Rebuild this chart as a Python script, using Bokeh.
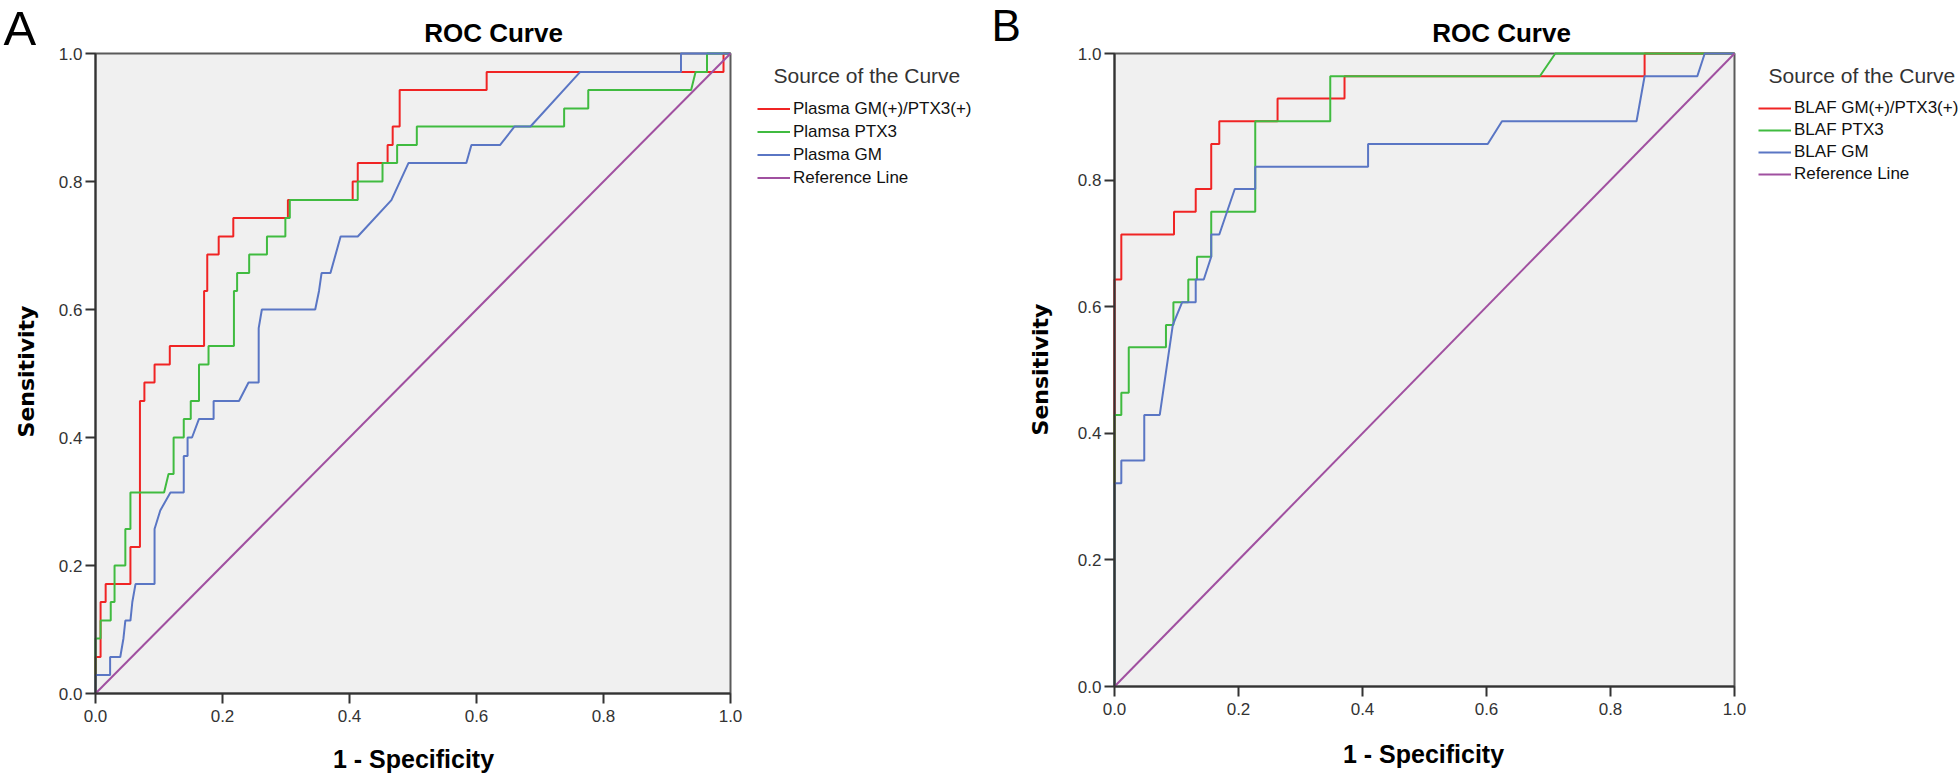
import math
from bokeh.plotting import figure
from bokeh.layouts import row
from bokeh.models import (Range1d, Label, Legend, LegendItem, FixedTicker, PrintfTickFormatter,
                          LinearAxis)
from bokeh.embed import file_html
from bokeh.resources import INLINE

# ---------------- data ----------------
tick_values = [0.0, 0.2, 0.4, 0.6, 0.8, 1.0]

ref_x = [0.0, 1.0]
ref_y = [0.0, 1.0]

# Panel A
a_names = ["Plasma GM(+)/PTX3(+)", "Plamsa PTX3", "Plasma GM", "Reference Line"]
a_red_fpr = [0, 0, 0.008, 0.008, 0.016, 0.016, 0.055, 0.055, 0.070, 0.070, 0.077, 0.077, 0.093, 0.093,
             0.117, 0.117, 0.171, 0.171, 0.176, 0.176, 0.194, 0.194, 0.217, 0.217, 0.303, 0.303,
             0.405, 0.405, 0.413, 0.413, 0.460, 0.460, 0.468, 0.468, 0.479, 0.479, 0.616, 0.616,
             0.989, 0.989, 1.0]
a_red_tpr = [0, 0.057, 0.057, 0.143, 0.143, 0.171, 0.171, 0.229, 0.229, 0.457, 0.457, 0.486, 0.486, 0.514,
             0.514, 0.543, 0.543, 0.629, 0.629, 0.686, 0.686, 0.714, 0.714, 0.743, 0.743, 0.771,
             0.771, 0.800, 0.800, 0.829, 0.829, 0.857, 0.857, 0.886, 0.886, 0.943, 0.943, 0.971,
             0.971, 1.0, 1.0]
a_green_fpr = [0, 0, 0.008, 0.008, 0.024, 0.024, 0.030, 0.030, 0.047, 0.047, 0.055, 0.055, 0.108, 0.115,
               0.123, 0.123, 0.139, 0.139, 0.150, 0.150, 0.163, 0.163, 0.178, 0.178, 0.218, 0.218,
               0.223, 0.223, 0.242, 0.242, 0.270, 0.270, 0.299, 0.299, 0.306, 0.306, 0.413, 0.413,
               0.452, 0.452, 0.475, 0.475, 0.506, 0.506, 0.738, 0.738, 0.776, 0.776, 0.938, 0.945,
               0.963, 0.963, 1.0]
a_green_tpr = [0, 0.086, 0.086, 0.114, 0.114, 0.143, 0.143, 0.200, 0.200, 0.257, 0.257, 0.314, 0.314, 0.343,
               0.343, 0.400, 0.400, 0.429, 0.429, 0.457, 0.457, 0.514, 0.514, 0.543, 0.543, 0.629,
               0.629, 0.657, 0.657, 0.686, 0.686, 0.714, 0.714, 0.743, 0.743, 0.771, 0.771, 0.800,
               0.800, 0.829, 0.829, 0.857, 0.857, 0.886, 0.886, 0.914, 0.914, 0.943, 0.943, 0.971,
               0.971, 1.0, 1.0]
a_blue_fpr = [0, 0, 0.023, 0.023, 0.039, 0.044, 0.047, 0.055, 0.058, 0.063, 0.093, 0.093, 0.102, 0.118,
              0.139, 0.139, 0.145, 0.145, 0.152, 0.163, 0.186, 0.186, 0.226, 0.241, 0.257, 0.257,
              0.262, 0.346, 0.352, 0.356, 0.370, 0.386, 0.413, 0.466, 0.493, 0.584, 0.592, 0.637,
              0.660, 0.685, 0.763, 0.922, 0.922, 1.0]
a_blue_tpr = [0, 0.029, 0.029, 0.057, 0.057, 0.086, 0.114, 0.114, 0.143, 0.171, 0.171, 0.257, 0.286, 0.314,
              0.314, 0.371, 0.371, 0.400, 0.400, 0.429, 0.429, 0.457, 0.457, 0.486, 0.486, 0.571,
              0.600, 0.600, 0.629, 0.657, 0.657, 0.714, 0.714, 0.771, 0.829, 0.829, 0.857, 0.857,
              0.886, 0.886, 0.971, 0.971, 1.0, 1.0]

# Panel B
b_names = ["BLAF GM(+)/PTX3(+)", "BLAF PTX3", "BLAF GM", "Reference Line"]
b_red_fpr = [0, 0, 0.011, 0.011, 0.096, 0.096, 0.131, 0.131, 0.156, 0.156, 0.169, 0.169, 0.263, 0.263,
             0.371, 0.371, 0.855, 0.855, 1.0]
b_red_tpr = [0, 0.643, 0.643, 0.714, 0.714, 0.750, 0.750, 0.786, 0.786, 0.857, 0.857, 0.893, 0.893, 0.929,
             0.929, 0.964, 0.964, 1.0, 1.0]
b_green_fpr = [0, 0, 0.011, 0.011, 0.023, 0.023, 0.083, 0.083, 0.095, 0.095, 0.119, 0.119, 0.133, 0.133,
               0.156, 0.156, 0.227, 0.227, 0.348, 0.348, 0.686, 0.711, 1.0]
b_green_tpr = [0, 0.429, 0.429, 0.464, 0.464, 0.536, 0.536, 0.571, 0.571, 0.607, 0.607, 0.643, 0.643, 0.679,
               0.679, 0.750, 0.750, 0.893, 0.893, 0.964, 0.964, 1.0, 1.0]
b_blue_fpr = [0, 0, 0.011, 0.011, 0.048, 0.048, 0.073, 0.094, 0.109, 0.131, 0.131, 0.144, 0.156, 0.156,
              0.169, 0.194, 0.227, 0.227, 0.409, 0.409, 0.602, 0.625, 0.842, 0.855, 0.940, 0.952, 1.0]
b_blue_tpr = [0, 0.321, 0.321, 0.357, 0.357, 0.429, 0.429, 0.571, 0.607, 0.607, 0.643, 0.643, 0.679, 0.714,
              0.714, 0.786, 0.786, 0.821, 0.821, 0.857, 0.857, 0.893, 0.893, 0.964, 0.964, 1.0, 1.0]

colors = ["#f02424", "#40bb40", "#5a76c4", "#a050a0"]

FONT = "Liberation Sans"
H = 776


def add_label(p, x, y, text, size, bold=False, align="left", angle=0.0, font=FONT, color="#000000"):
    p.add_layout(Label(x=x, y=y, text=text, text_font=font, text_font_size=size,
                       text_font_style="bold" if bold else "normal", text_align=align,
                       text_baseline="middle", angle=angle, text_color=color))


def make_panel(series, names, W, left_px, plot_w, bottom_px, plot_h, letter, letter_size, geo):
    # frame covers the whole panel; the [0,1] square is mapped onto the plot area
    x0 = -left_px / plot_w
    x1 = (W - left_px) / plot_w
    y0 = -(H - bottom_px) / plot_h
    y1 = bottom_px / plot_h
    p = figure(title=None, frame_width=W, frame_height=H,
               min_border_left=0, min_border_top=0, min_border_right=0, min_border_bottom=0,
               x_range=Range1d(x0, x1), y_range=Range1d(y0, y1),
               x_axis_location=None, y_axis_location=None,
               toolbar_location=None, output_backend="svg")
    p.background_fill_color = "#ffffff"
    p.border_fill_color = "#ffffff"
    p.outline_line_color = None
    p.xgrid.visible = False
    p.ygrid.visible = False

    # plot area
    p.quad(left=[0], right=[1], bottom=[0], top=[1], fill_color="#f0f0f0",
           line_color="#5a5a5a", line_width=2)

    renderers = []
    for (xs, ys), c in zip(series, colors):
        r = p.line(xs, ys, line_color=c, line_width=2)
        renderers.append(r)

    xax = LinearAxis(fixed_location=0, bounds=(0, 1))
    yax = LinearAxis(fixed_location=0, bounds=(0, 1))
    for ax in (xax, yax):
        ax.ticker = FixedTicker(ticks=tick_values)
        ax.formatter = PrintfTickFormatter(format="%.1f")
        ax.major_label_text_font = FONT
        ax.major_label_text_font_size = "17px"
        ax.major_label_text_color = "#333333"
        ax.major_tick_out = 10
        ax.major_tick_in = 0
        ax.minor_tick_out = 0
        ax.minor_tick_in = 0
        ax.axis_line_color = "#333333"
        ax.axis_line_width = 2
        ax.major_tick_line_color = "#333333"
        ax.major_tick_line_width = 2
    xax.major_label_standoff = 6
    yax.major_label_standoff = 3
    p.add_layout(xax, "below")
    p.add_layout(yax, "left")

    items = [LegendItem(label=n, renderers=[r]) for n, r in zip(names, renderers)]
    legend = Legend(items=items, location=geo["legend_loc"],
                    label_text_font=FONT, label_text_font_size="17px", label_text_color="#111111",
                    label_height=geo["row_h"], glyph_height=geo["row_h"], glyph_width=33,
                    label_standoff=3, spacing=0, padding=0, margin=0,
                    border_line_alpha=0, background_fill_alpha=0)
    p.add_layout(legend)

    add_label(p, geo["letter"][0], geo["letter"][1], letter, letter_size)
    add_label(p, geo["title"][0], geo["title"][1], "ROC Curve", "26px", bold=True, align="center")
    add_label(p, geo["xlab"][0], geo["xlab"][1], "1 - Specificity", "25px", bold=True, align="center")
    add_label(p, geo["ylab"][0], geo["ylab"][1], "Sensitivity", "22px", bold=True, align="center",
              angle=math.pi / 2, font="DejaVu Sans")
    add_label(p, geo["ltitle"][0], geo["ltitle"][1], "Source of the Curve", "21px", color="#333333")
    return p


geoA = dict(legend_loc=(757, 587), row_h=23,
            letter=(-0.145, 1.0398), title=(0.6268, 1.0328), xlab=(0.5008, -0.1031),
            ylab=(-0.1087, 0.5031), ltitle=(1.0677, 0.9656))
geoB = dict(legend_loc=(768, 591), row_h=22,
            letter=(-0.1984, 1.0442), title=(0.6242, 1.0316), xlab=(0.4984, -0.1066),
            ylab=(-0.1194, 0.5008), ltitle=(1.0548, 0.9652))

pA = make_panel([(a_red_fpr, a_red_tpr), (a_green_fpr, a_green_tpr), (a_blue_fpr, a_blue_tpr), (ref_x, ref_y)],
                a_names, 990, 95, 635, 693, 640, "A", "49px", geoA)
pB = make_panel([(b_red_fpr, b_red_tpr), (b_green_fpr, b_green_tpr), (b_blue_fpr, b_blue_tpr), (ref_x, ref_y)],
                b_names, 970, 124, 620, 686, 633, "B", "44px", geoB)

layout = row(pA, pB, spacing=0)
open("out.html", "w").write(file_html(layout, INLINE))
